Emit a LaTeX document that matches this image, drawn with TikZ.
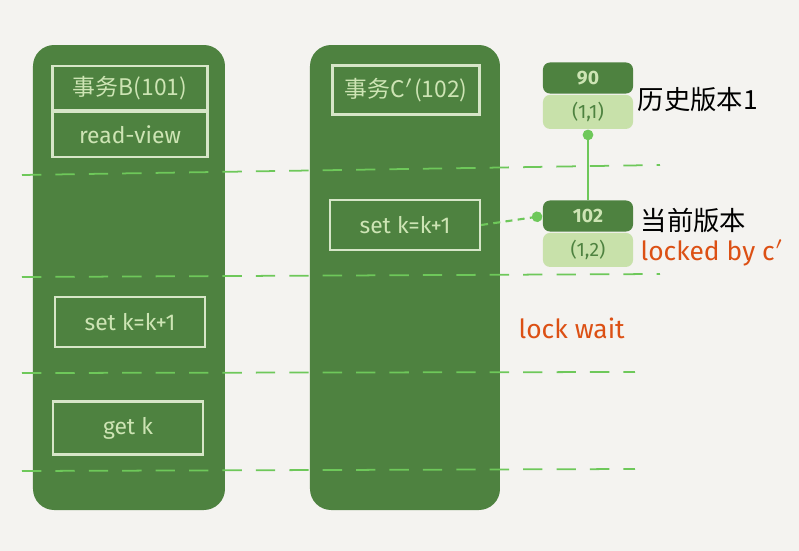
\documentclass[tikz,border=0pt]{standalone}
\usepackage{fontspec}
\setmainfont{Fira Sans}
\newfontfamily\cjk{Noto Sans CJK SC}
\usetikzlibrary{arrows.meta}
\definecolor{bgcol}{RGB}{244,243,240}
\definecolor{colgreen}{RGB}{78,130,64}
\definecolor{boxline}{RGB}{215,230,200}
\definecolor{txtgreen}{RGB}{205,228,180}
\definecolor{lightver}{RGB}{200,225,170}
\definecolor{dashgreen}{RGB}{110,200,90}
\definecolor{lockorange}{RGB}{220,80,20}
\newcommand\labfont{\fontsize{6.5}{7}\selectfont}
\newcommand\notefont{\fontsize{7.5}{8}\selectfont}
\newcommand\verfont{\fontsize{5.5}{6}\selectfont}
\tikzset{
  column/.style={fill=colgreen,rounded corners=6pt},
  opbox/.style={draw=boxline,line width=0.6pt,text=txtgreen,font=\labfont,
    minimum height=0.48cm,inner sep=0pt},
  verhead/.style={fill=colgreen,rounded corners=2pt,minimum width=0.9cm,
    minimum height=0.31cm,text=txtgreen,font=\verfont\bfseries,inner sep=0pt},
  verbody/.style={fill=lightver,rounded corners=2pt,minimum width=0.9cm,
    minimum height=0.34cm,text=colgreen,font=\verfont,inner sep=0pt},
  timeline/.style={dashgreen,dash pattern=on 5.5pt off 4pt,line width=0.5pt},
  note/.style={font=\cjk\notefont,anchor=west,inner sep=0pt},
  locknote/.style={lockorange,font=\notefont,anchor=west,inner sep=0pt}
}
\begin{document}
\begin{tikzpicture}[x=0.01cm,y=-0.01cm]
    % Canvas
    \fill[bgcol] (0,0) rectangle (799,551);
    \useasboundingbox (0,0) rectangle (799,551);

    % Transaction columns
    \fill[column] (33,45) rectangle (225,510);
    \fill[column] (310,45) rectangle (500,510);

    % Time lines
    \draw[timeline] (22,175) -- (660,165);
    \draw[timeline] (22,277) -- (660,274);
    \draw[timeline] (22,373) -- (635,372);
    \draw[timeline] (22,471) -- (635,469);

    % Transaction B
    \node[opbox,minimum width=1.55cm,minimum height=0.44cm,font=\cjk\labfont] (hdrB) at (130,88) {事务B(101)};
    \node[opbox,minimum width=1.55cm,minimum height=0.45cm,anchor=north] (rv) at (hdrB.south) {read-view};
    \node[opbox,minimum width=1.5cm,minimum height=0.5cm] (setB) at (130,322) {set k=k+1};
    \node[opbox,minimum width=1.5cm,minimum height=0.53cm] (getB) at (128,428) {get k};

    % Transaction C
    \node[opbox,minimum width=1.47cm,minimum height=0.49cm,font=\cjk\labfont] (hdrC) at (406,90) {事务C$'$(102)};
    \node[opbox,minimum width=1.5cm,minimum height=0.5cm] (setC) at (405,225) {set k=k+1};

    % Row versions
    \node[verhead] (v90) at (588,78) {90};
    \node[verbody,anchor=north] (v11) at (v90.south) {(1,1)};
    \node[verhead] (v102) at (588,216) {102};
    \node[verbody,anchor=north] (v12) at (v102.south) {(1,2)};

    \draw[dashgreen,line width=0.6pt,-{Circle[length=3pt]}] (v102.north) -- (v11.south);
    \draw[dashgreen,line width=0.6pt,dash pattern=on 2pt off 1.5pt,-{Circle[length=3pt]}] (setC.east) -- (v102.west);

    % Labels
    \node[note] (hist) at (637,100) {历史版本1};
    \node[note] (cur) at (640,220) {当前版本};
    \node[locknote] (locked) at (640,253) {locked by c$'$};
    \node[locknote] (wait) at (518,328) {lock wait};
\end{tikzpicture}
\end{document}
